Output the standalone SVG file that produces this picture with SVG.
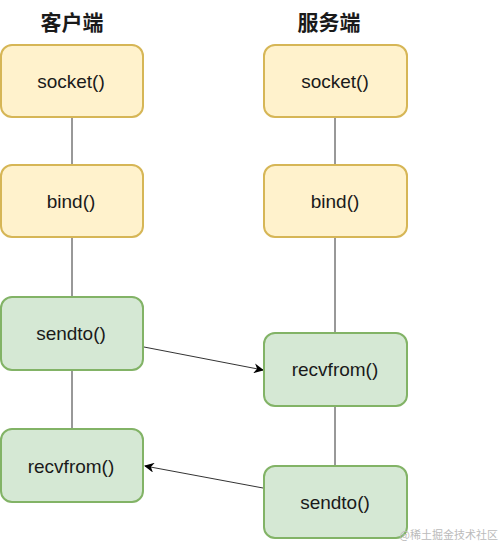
<svg xmlns="http://www.w3.org/2000/svg" width="502" height="544" viewBox="0 0 502 544">
<defs>
<style>
.y{fill:#fff2cc;stroke:#d6b656;stroke-width:2}
.g{fill:#d5e8d4;stroke:#82b366;stroke-width:2}
.t{font-family:"Liberation Sans",Arial,sans-serif;font-size:19px;fill:#1a1a1a;text-anchor:middle;dominant-baseline:central}
.h{font-family:"Noto Sans CJK SC",sans-serif;font-size:21px;font-weight:bold;fill:#1a1a1a;text-anchor:middle}
.l{stroke:#333;stroke-width:1;fill:none}
</style>
<marker id="a" viewBox="0 0 10 10" refX="9" refY="5" markerWidth="10" markerHeight="10" markerUnits="userSpaceOnUse" orient="auto">
<path d="M0,0 L10,5 L0,10 L3,5 Z" fill="#000"/>
</marker>
</defs>
<rect width="502" height="544" fill="#fff"/>
<text class="h" x="72" y="30">客户端</text>
<text class="h" x="329" y="30">服务端</text>
<g id="connectors">
<line class="l" x1="72" y1="118" x2="72" y2="164"/>
<line class="l" x1="72" y1="238" x2="72" y2="296"/>
<line class="l" x1="72" y1="371" x2="72" y2="428"/>
<line class="l" x1="335" y1="118" x2="335" y2="164"/>
<line class="l" x1="335" y1="238" x2="335" y2="332"/>
<line class="l" x1="335" y1="407" x2="335" y2="465"/>
<line class="l" x1="144" y1="347" x2="263" y2="370" stroke="#000" marker-end="url(#a)"/>
<line class="l" x1="263" y1="488" x2="145" y2="466" stroke="#000" marker-end="url(#a)"/>
</g>
<g id="c-socket"><rect class="y" x="1" y="45" width="142" height="72" rx="11"/><text class="t" x="71" y="81">socket()</text></g>
<g id="c-bind"><rect class="y" x="1" y="165" width="142" height="72" rx="11"/><text class="t" x="71" y="201">bind()</text></g>
<g id="c-sendto"><rect class="g" x="1" y="297" width="142" height="73" rx="11"/><text class="t" x="71" y="333">sendto()</text></g>
<g id="c-recvfrom"><rect class="g" x="1" y="429" width="142" height="73" rx="11"/><text class="t" x="71" y="466">recvfrom()</text></g>
<g id="s-socket"><rect class="y" x="264" y="45" width="143" height="72" rx="11"/><text class="t" x="335" y="81">socket()</text></g>
<g id="s-bind"><rect class="y" x="264" y="165" width="143" height="72" rx="11"/><text class="t" x="335" y="201">bind()</text></g>
<g id="s-recvfrom"><rect class="g" x="264" y="333" width="143" height="73" rx="11"/><text class="t" x="335" y="369">recvfrom()</text></g>
<g id="s-sendto"><rect class="g" x="264" y="466" width="143" height="72" rx="11"/><text class="t" x="335" y="502">sendto()</text></g>
<text x="498" y="539" font-family="'Noto Sans CJK SC',sans-serif" font-size="11" fill="#bbb" text-anchor="end">@稀土掘金技术社区</text>
</svg>
